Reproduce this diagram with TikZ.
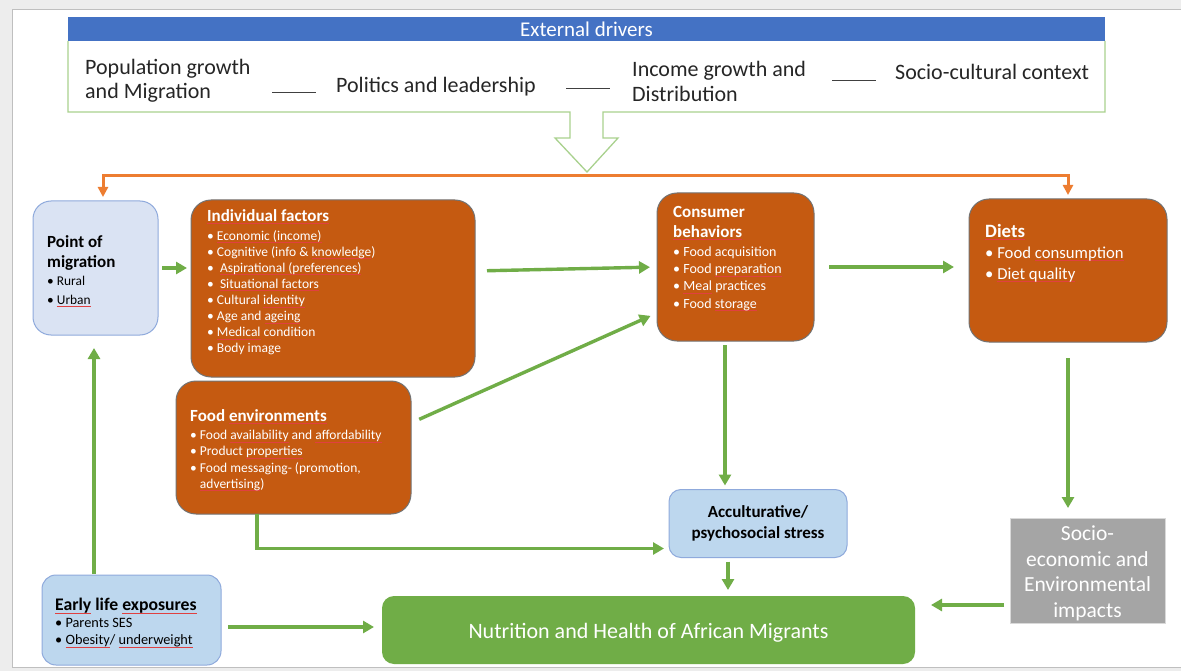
\documentclass[tikz,border=0pt]{standalone}
\usepackage{fontspec}
\setmainfont{Carlito}
\usetikzlibrary{arrows.meta}
\definecolor{hdrblue}{HTML}{4472C4}
\definecolor{lgreen}{HTML}{A9D18E}
\definecolor{orline}{HTML}{ED7D31}
\definecolor{boxor}{HTML}{C55A11}
\definecolor{ptblue}{HTML}{DAE3F3}
\definecolor{ltblue}{HTML}{BDD7EE}
\definecolor{bdblue}{HTML}{8FAADC}
\definecolor{sgray}{HTML}{A5A5A5}
\definecolor{ngreen}{HTML}{70AD47}
\definecolor{sqred}{HTML}{E04040}
\newcommand\fsz[2]{\fontsize{#1}{#2}\selectfont}
\newcommand\sq[1]{\leavevmode\setbox0=\hbox{#1}\rlap{\raisebox{-2.8pt}{\textcolor{sqred}{\rule{\wd0}{0.7pt}}}}\box0\relax}
\begin{document}
\begin{tikzpicture}[x=1pt,y=-1pt,
 box/.style={inner sep=0pt, outer sep=0pt},
 obox/.style={box, draw=black!55, line width=1pt, fill=boxor, rounded corners=20pt},
 bbox/.style={box, draw=bdblue, line width=1pt, fill=ltblue, rounded corners=14pt},
 wtxt/.style={inner sep=0pt, align=left, text=white, anchor=north west},
 ktxt/.style={inner sep=0pt, align=left, text=black, anchor=north west},
 garrow/.style={draw=ngreen, line width=3.4pt, -{Triangle[length=11pt,width=12pt]}},
 oarrow/.style={draw=orline, line width=3pt, {Triangle[length=10pt,width=10pt]}-{Triangle[length=10pt,width=10pt]}},
 dline/.style={draw=black!75, line width=0.9pt}]
\useasboundingbox (0,0) rectangle (1181,671);
\fill[black!7] (0,0) rectangle (1181,671);
\fill[white] (12,10) rectangle (1181,667);
\draw[black!25, line width=1pt] (1181,10) -- (12,10) -- (12,667) -- (1181,667);

% external drivers
\draw[lgreen, line width=1.3pt, fill=white] (68,41) -- (68,112) -- (570,112) -- (570,138) -- (555,138) -- (587,172) -- (618,138) -- (603,138) -- (603,112) -- (1105,112) -- (1105,41);
\node[box, fill=hdrblue, minimum width=1037pt, minimum height=24pt, text=white, font=\fsz{21}{22}] (ext) at (586.5,29) {External drivers};
\node[ktxt, anchor=west, text=black!85, font=\fsz{22}{24}] (pop) at (85,80.5) {Population growth\\and Migration};
\node[ktxt, anchor=west, text=black!85, font=\fsz{22}{24}] (pol) at (336,87) {Politics and leadership};
\node[ktxt, anchor=west, text=black!85, font=\fsz{22}{25}] (inc) at (632,81.5) {Income growth and\\Distribution};
\node[ktxt, anchor=west, text=black!85, font=\fsz{22}{24}] (soc) at (895,72) {Socio-cultural context};
\coordinate (d1a) at (272,92); \coordinate (d1b) at (316,92);
\coordinate (d2a) at (566,88); \coordinate (d2b) at (610,88);
\coordinate (d3a) at (832,80); \coordinate (d3b) at (876,80);
\draw[dline] (d1a) -- (d1b);
\draw[dline] (d2a) -- (d2b);
\draw[dline] (d3a) -- (d3b);

% boxes
\node[bbox, fill=ptblue, minimum width=125pt, minimum height=134pt, rounded corners=18pt] (ptm) at (95.5,268) {};
\node[obox, minimum width=284pt, minimum height=177pt] (ind) at (333,288.5) {};
\node[obox, minimum width=235pt, minimum height=133pt] (fenv) at (293.5,447.5) {};
\node[obox, minimum width=157pt, minimum height=148pt] (cons) at (735.5,267) {};
\node[obox, minimum width=198pt, minimum height=143pt] (diets) at (1068,270.5) {};
\node[bbox, minimum width=178pt, minimum height=68pt, rounded corners=12pt, align=center, font=\fsz{17}{21}\bfseries] (acc) at (758,523.5) {Acculturative/\\psychosocial stress};
\node[box, fill=sgray, draw=black!15, minimum width=155pt, minimum height=105pt] (socio) at (1087.5,570.5) {};
\node[box, align=center, text=white, font=\fsz{21.5}{25.5}] (sociot) at (1087.5,573.5) {Socio-\\economic and\\Environmental\\impacts};
\node[box, fill=ngreen, rounded corners=12pt, minimum width=533pt, minimum height=68pt] (nutr) at (648.5,630) {};
\node[box, text=white, font=\fsz{22}{24}] (nutrt) at (648.5,632.5) {Nutrition and Health of African Migrants};
\node[bbox, minimum width=179pt, minimum height=90pt, rounded corners=14pt] (early) at (131.5,620) {};

% box texts
\node[ktxt, font=\fsz{13.4}{18.5}] (ptmt) at (47,235) {{\fsz{17}{20}\bfseries Point of}\\[1.5pt]{\fsz{17}{20}\bfseries migration}\\• Rural\\• \sq{Urban}};
\node[wtxt, font=\fsz{13.5}{16.1}] (indt) at (207,209) {{\fsz{17}{16}\bfseries\sq{Individual factors}}\\[2.8pt]
 • \sq{Economic (income)}\\
 • Cognitive (info \& \sq{knowledge})\\
 •\ \ \sq{Aspirational (preferences)}\\
 •\ \ \sq{Situational factors}\\
 • Cultural \sq{identity}\\
 • Age and \sq{ageing}\\
 • \sq{Medical} condition\\
 • Body image};
\node[wtxt, font=\fsz{13.5}{16.3}] (fenvt) at (190,409) {{\fsz{17}{16}\bfseries Food \sq{environments}}\\[2pt]
 • Food \sq{availability} and \sq{affordability}\\
 • Product \sq{properties}\\
 • Food messaging- (promotion,\\
 \phantom{• }\sq{advertising})};
\node[wtxt, font=\fsz{14}{17.3}] (const) at (673,206) {{\fsz{17}{20}\bfseries Consumer}\\[2.7pt]{\fsz{17}{20}\bfseries\sq{behaviors}}\\[1.7pt]
 • Food acquisition\\
 • Food \sq{preparation}\\
 • \sq{Meal} practices\\
 • Food \sq{storage}};
\node[wtxt, font=\fsz{16.7}{21}] (dietst) at (985,224) {{\fsz{18.8}{21}\bfseries\sq{Diets}}\\
 • Food \sq{consumption}\\
 • \sq{Diet quality}};
\node[ktxt, font=\fsz{14.3}{17}] (earlyt) at (55,598) {{\fsz{17.7}{17}\bfseries\sq{Early} life \sq{exposures}}\\
 • Parents SES\\
 • \sq{Obesity}/ \sq{underweight}};

% orange connector
\coordinate (obar) at (0,176);
\draw[oarrow, shorten <=4pt, shorten >=4pt] ([xshift=7.5pt]ptm.north) -- ([xshift=7.5pt]ptm.north |- obar) -- (diets.north |- obar) -- (diets.north);

% green arrows
\draw[garrow, shorten <=4pt, shorten >=4pt] (ptm.east) -- (ptm.east -| ind.west);
\draw[garrow, shorten <=12pt, shorten >=7pt] ([yshift=17.5pt]ind.east) -- (cons.west);
\draw[garrow, shorten <=9pt, shorten >=7pt] ([yshift=24.5pt]fenv.east) -- ([yshift=-46pt]cons.west);
\draw[garrow, shorten <=15pt, shorten >=15pt] (cons.east) -- (cons.east -| diets.west);
\draw[garrow, shorten <=4pt, shorten >=4pt] ([xshift=-10.5pt]cons.south) -- ([xshift=-10.5pt]cons.south |- acc.north);
\draw[garrow, shorten >=5pt] ([xshift=-36.5pt]fenv.south) |- ([yshift=-25pt]acc.west);
\draw[garrow, shorten <=4pt, shorten >=6pt] ([xshift=-30pt]acc.south) -- ([xshift=-30pt]acc.south |- nutr.north);
\draw[garrow, shorten <=16pt, shorten >=10pt] (diets.south) -- (diets.south |- socio.north);
\draw[garrow, shorten <=6pt, shorten >=16pt] ([yshift=-34.5pt]socio.west) -- ([yshift=-34.5pt]socio.west -| nutr.east);
\draw[garrow, shorten <=1pt, shorten >=13pt] ([xshift=-37.5pt]early.north) -- ([xshift=-37.5pt]early.north |- ptm.south);
\draw[garrow, shorten <=7pt, shorten >=8pt] ([yshift=-7pt]early.east) -- ([yshift=-7pt]early.east -| nutr.west);
\end{tikzpicture}
\end{document}
